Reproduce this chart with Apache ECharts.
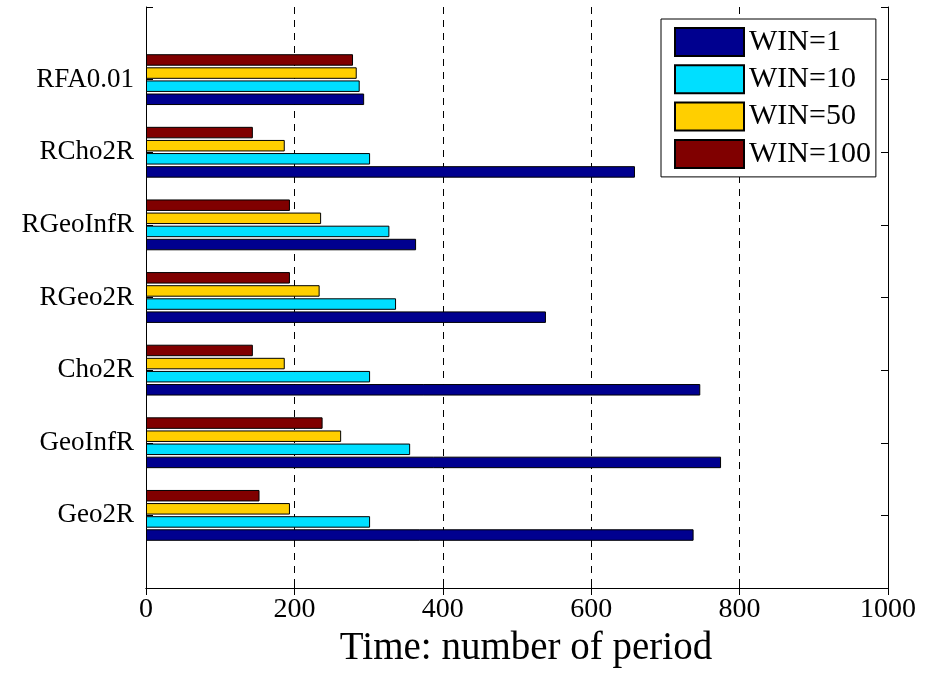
<!DOCTYPE html>
<html>
<head>
<meta charset="utf-8">
<title>Time: number of period</title>
<script src="https://cdn.jsdelivr.net/npm/echarts@6/dist/echarts.min.js"></script>
<style>
  html, body { margin: 0; padding: 0; background: #fff; }
  #chart { width: 933px; height: 673px; }
</style>
</head>
<body>
<div id="chart"></div>
<script>
// Methods, listed bottom to top on the vertical axis
const categories = ['Geo2R', 'GeoInfR', 'Cho2R', 'RGeo2R', 'RGeoInfR', 'RCho2R', 'RFA0.01'];
const seriesNames = ['WIN=1', 'WIN=10', 'WIN=50', 'WIN=100'];
const win1   = [738, 775, 747, 539, 364, 659, 294];
const win10  = [302, 356, 302, 337, 328, 302, 288];
const win50  = [194, 263, 187, 234, 236, 187, 284];
const win100 = [153, 238, 144, 194, 194, 144, 279];
const xTicks = [0, 200, 400, 600, 800, 1000];

const colors = ['#00008f', '#00dfff', '#ffcf00', '#800000'];
const values = [win1, win10, win50, win100];
const FONT = '"Liberation Serif", "Times New Roman", serif';

// One empty slot at each end so the methods sit at positions 1..7 on a 0..8 span
const yCats = [''].concat(categories, ['']);
const pad = arr => ['-'].concat(arr, ['-']);

const chart = echarts.init(document.getElementById('chart'), null, { renderer: 'canvas' });

// Bars within a group stack top-down in series order, so add WIN=100 first
// to leave WIN=1 at the bottom of every group.
const series = values.map((v, i) => ({
  name: seriesNames[i],
  type: 'bar',
  xAxisIndex: 0,
  yAxisIndex: 0,
  data: pad(v),
  barWidth: 11.5,
  barGap: '14%',
  itemStyle: { color: colors[i], borderColor: '#000', borderWidth: 1 },
  emphasis: { disabled: true },
  animation: false
})).reverse();

const tickLabel = v => {
  const idx = Math.round(v) - 1;
  return idx >= 0 && idx < categories.length ? categories[idx] : '';
};

chart.setOption({
  animation: false,
  backgroundColor: '#fff',
  textStyle: { fontFamily: FONT },
  grid: { left: 146, right: 45, top: 7, bottom: 85, containLabel: false },
  legend: {
    orient: 'vertical',
    left: 661,
    top: 19,
    padding: [8, 5, 8, 13],
    itemWidth: 69,
    itemHeight: 28,
    itemGap: 7.3,
    backgroundColor: '#fff',
    borderColor: '#000',
    borderWidth: 1,
    borderRadius: 0,
    selectedMode: false,
    data: seriesNames,
    icon: 'rect',
    textStyle: { fontFamily: FONT, fontSize: 30, lineHeight: 28, color: '#000' }
  },
  xAxis: [
    {
      type: 'value',
      position: 'bottom',
      min: xTicks[0],
      max: xTicks[xTicks.length - 1],
      interval: xTicks[1] - xTicks[0],
      name: 'Time: number of period',
      nameLocation: 'middle',
      nameGap: 41,
      nameTextStyle: { fontFamily: FONT, fontSize: 39, color: '#000', padding: [0, 0, 0, 18] },
      axisLine: { show: true, lineStyle: { color: '#000', width: 1 } },
      axisTick: { show: true, inside: true, length: 7, lineStyle: { color: '#000' } },
      axisLabel: { fontFamily: FONT, fontSize: 28, color: '#000', margin: 8, formatter: v => String(v) },
      splitLine: { show: true, lineStyle: { color: '#000', type: [7, 6], width: 1 } }
    },
    {
      type: 'value',
      position: 'top',
      min: xTicks[0],
      max: xTicks[xTicks.length - 1],
      interval: xTicks[1] - xTicks[0],
      axisLine: { show: true, lineStyle: { color: '#000', width: 1 } },
      axisTick: { show: true, inside: true, length: 7, lineStyle: { color: '#000' } },
      axisLabel: { show: false },
      splitLine: { show: false }
    }
  ],
  yAxis: [
    {
      // category scale that positions the bars
      type: 'category',
      position: 'left',
      data: yCats,
      boundaryGap: false,
      show: false
    },
    {
      // labelled left axis: positions 0..8, methods at 1..7
      type: 'value',
      position: 'left',
      min: 0,
      max: 8,
      interval: 1,
      axisLine: { show: true, lineStyle: { color: '#000', width: 1 } },
      axisTick: { show: true, inside: true, length: 7, lineStyle: { color: '#000' } },
      axisLabel: { fontFamily: FONT, fontSize: 27, color: '#000', margin: 12, formatter: tickLabel },
      splitLine: { show: false }
    },
    {
      type: 'value',
      position: 'right',
      min: 0,
      max: 8,
      interval: 1,
      axisLine: { show: true, lineStyle: { color: '#000', width: 1 } },
      axisTick: { show: true, inside: true, length: 7, lineStyle: { color: '#000' } },
      axisLabel: { show: false },
      splitLine: { show: false }
    }
  ],
  series: series
});
</script>
</body>
</html>
